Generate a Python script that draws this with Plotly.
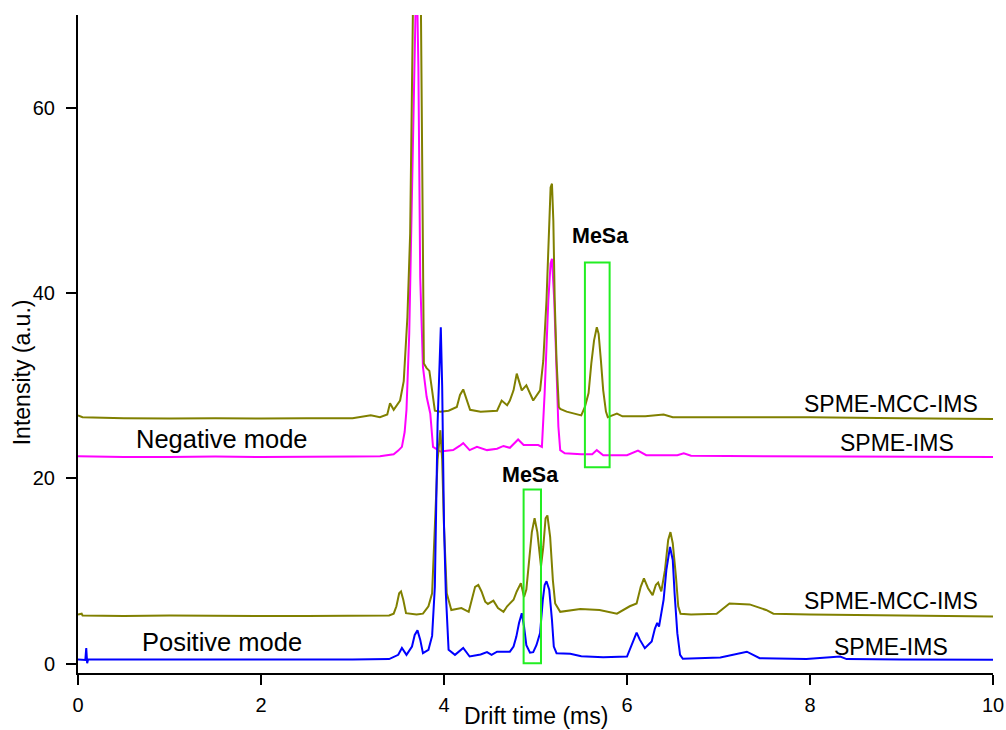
import plotly.graph_objects as go

# ---------------- data ----------------
neg_mcc_x = [0.0, 0.05, 0.5, 1.0, 1.5, 2.0, 2.5, 3.0, 3.2, 3.3, 3.38, 3.41, 3.45, 3.52, 3.56, 3.60, 3.63,
             3.66, 3.68, 3.71, 3.74, 3.76, 3.77, 3.78, 3.81, 3.84, 3.87, 3.90, 3.96, 4.05, 4.14, 4.175,
             4.21, 4.25, 4.285, 4.40, 4.58, 4.63, 4.69, 4.72, 4.76, 4.795, 4.85, 4.90, 4.975, 5.05, 5.085,
             5.12, 5.145, 5.165, 5.18, 5.195, 5.21, 5.23, 5.255, 5.27, 5.34, 5.50, 5.54, 5.58, 5.61, 5.64,
             5.67, 5.69, 5.715, 5.74, 5.77, 5.79, 5.84, 5.89, 5.95, 6.2, 6.4, 6.5, 7.0, 8.0, 9.0, 10.0]
neg_mcc_y = [26.8, 26.6, 26.5, 26.45, 26.5, 26.45, 26.5, 26.5, 26.8, 26.6, 26.9, 28.1, 27.4, 28.4, 30.5, 37.4, 46.4,
             62.0, 85.0, 110.0, 80.0, 52.0, 38.1, 32.4, 31.9, 31.6, 29.5, 27.3, 27.2, 27.3, 27.7, 29.0,
             29.6, 28.4, 27.4, 27.2, 27.3, 28.4, 27.9, 28.4, 29.5, 31.3, 29.5, 30.05, 28.4, 29.5, 32.7,
             39.2, 47.1, 51.4, 51.8, 47.8, 39.2, 32.7, 27.7, 27.5, 27.2, 26.8, 27.7, 29.2, 32.4, 34.9,
             36.3, 35.6, 32.7, 29.5, 27.2, 26.6, 26.8, 27.0, 26.7, 26.7, 26.9, 26.6, 26.6, 26.6, 26.5, 26.4]

neg_ims_x = [0.0, 0.5, 1.0, 1.5, 2.0, 2.5, 3.0, 3.3, 3.45, 3.50, 3.54, 3.57, 3.59, 3.62, 3.65, 3.68, 3.70,
             3.72, 3.74, 3.77, 3.81, 3.85, 3.88, 3.96, 4.10, 4.17, 4.21, 4.28, 4.36, 4.47, 4.58, 4.65,
             4.72, 4.81, 4.87, 5.03, 5.07, 5.10, 5.14, 5.165, 5.18, 5.205, 5.23, 5.25, 5.27, 5.32, 5.50, 5.62,
             5.67, 5.74, 6.0, 6.12, 6.21, 6.55, 6.62, 6.70, 7.5, 8.5, 10.0]
neg_ims_y = [22.4, 22.3, 22.3, 22.35, 22.3, 22.3, 22.35, 22.4, 22.6, 23.0, 23.4, 25.0, 27.4, 35.6, 53.6, 70.0, 76.0,
             64.4, 41.7, 32.0, 28.8, 27.0, 23.4, 22.9, 23.05, 23.5, 23.8, 23.05, 23.4, 23.05, 23.2, 23.5,
             23.3, 24.2, 23.6, 23.6, 23.4, 29.2, 39.2, 43.2, 43.7, 39.2, 30.9, 25.6, 23.05, 22.7, 22.6, 22.6,
             23.05, 22.5, 22.5, 23.0, 22.5, 22.5, 22.7, 22.45, 22.4, 22.35, 22.3]

pos_mcc_x = [0.0, 0.04, 0.05, 0.5, 1.0, 1.5, 2.0, 2.5, 3.0, 3.4, 3.45, 3.48, 3.51, 3.53, 3.555, 3.585,
             3.70, 3.77, 3.83, 3.87, 3.90, 3.93, 3.96, 3.98, 4.00, 4.03, 4.08, 4.19, 4.27, 4.30, 4.34,
             4.375, 4.41, 4.45, 4.48, 4.54, 4.59, 4.65, 4.69, 4.76, 4.795, 4.84, 4.875, 4.90, 4.93, 4.96,
             4.99, 5.02, 5.06, 5.085, 5.11, 5.13, 5.16, 5.19, 5.215, 5.27, 5.49, 5.70, 5.89, 6.03, 6.105,
             6.15, 6.185, 6.23, 6.28, 6.315, 6.34, 6.375, 6.415, 6.45, 6.475, 6.50, 6.535, 6.56, 6.585,
             6.70, 6.98, 7.12, 7.34, 7.52, 7.60, 8.0, 9.0, 10.0]
pos_mcc_y = [5.3, 5.4, 5.2, 5.15, 5.2, 5.15, 5.15, 5.15, 5.2, 5.2, 5.4, 6.2, 7.6, 7.8, 6.9, 5.45,
             5.3, 5.4, 6.2, 7.6, 14.8, 22.0, 25.2, 22.0, 14.8, 7.6, 5.8, 6.0, 5.6, 6.9, 8.3,
             8.5, 7.8, 6.7, 6.45, 6.8, 6.0, 5.6, 6.2, 6.9, 7.8, 8.7, 7.2, 8.0, 11.2, 14.2,
             15.7, 14.2, 10.5, 12.6, 15.7, 16.0, 13.7, 9.0, 6.5, 5.6, 5.9, 5.8, 5.4, 6.2, 6.5,
             8.3, 9.2, 8.15, 7.4, 8.5, 8.75, 7.8, 10.1, 13.35, 14.2, 13.0, 9.4, 6.2, 5.4,
             5.3, 5.4, 6.5, 6.4, 5.8, 5.4, 5.3, 5.2, 5.1]

pos_ims_x = [0.0, 0.08, 0.09, 0.10, 0.11, 0.5, 1.0, 1.5, 2.0, 2.5, 3.0, 3.4, 3.50, 3.54, 3.57, 3.59,
             3.65, 3.68, 3.71, 3.74, 3.77, 3.83, 3.87, 3.90, 3.93, 3.95, 3.965, 3.98, 4.00, 4.02, 4.05,
             4.12, 4.21, 4.28, 4.40, 4.47, 4.52, 4.58, 4.72, 4.76, 4.79, 4.82, 4.85, 4.875, 4.90, 4.94,
             4.975, 5.01, 5.05, 5.08, 5.10, 5.12, 5.15, 5.18, 5.20, 5.23, 5.38, 5.50, 5.74, 6.00, 6.07,
             6.105, 6.14, 6.195, 6.27, 6.305, 6.33, 6.35, 6.40, 6.43, 6.47, 6.50, 6.52, 6.55, 6.58, 6.61,
             7.02, 7.16, 7.31, 7.45, 7.96, 8.33, 8.40, 9.0, 10.0]
pos_ims_y = [0.45, 0.4, 1.7, 0.06, 0.45, 0.45, 0.4, 0.45, 0.45, 0.45, 0.45, 0.5, 0.96, 1.7, 1.3, 0.96,
             1.85, 3.1, 3.6, 2.6, 1.14, 1.5, 3.0, 8.3, 26.0, 33.0, 36.3, 30.0, 15.0, 7.6, 1.5,
             0.96, 1.7, 0.78, 1.0, 1.25, 0.96, 1.3, 1.3, 1.85, 2.9, 4.4, 5.45, 4.0, 2.0, 1.2,
             1.25, 2.0, 3.3, 6.9, 8.5, 8.9, 8.0, 4.7, 1.85, 1.14, 1.07, 0.8, 0.71, 0.78, 2.6,
             3.36, 2.6, 1.68, 2.4, 3.8, 4.4, 4.0, 6.9, 10.1, 12.6, 11.2, 7.6, 3.3, 0.96, 0.53,
             0.67, 0.96, 1.3, 0.6, 0.5, 0.78, 0.5, 0.45, 0.42]

x_ticks = [0, 2, 4, 6, 8, 10]
y_ticks = [0, 20, 40, 60]

# ---------------- figure ----------------
FONT = "Liberation Sans, Arial, sans-serif"
fig = go.Figure()
fig.add_trace(go.Scatter(x=neg_ims_x, y=neg_ims_y, mode="lines",
                         line=dict(color="#ff00ff", width=2), name="SPME-IMS (neg)"))
fig.add_trace(go.Scatter(x=neg_mcc_x, y=neg_mcc_y, mode="lines",
                         line=dict(color="#808000", width=2), name="SPME-MCC-IMS (neg)"))
fig.add_trace(go.Scatter(x=pos_mcc_x, y=pos_mcc_y, mode="lines",
                         line=dict(color="#808000", width=2), name="SPME-MCC-IMS (pos)"))
fig.add_trace(go.Scatter(x=pos_ims_x, y=pos_ims_y, mode="lines",
                         line=dict(color="#0000ff", width=2), name="SPME-IMS (pos)"))

# MeSa boxes
fig.add_shape(type="rect", x0=5.54, x1=5.81, y0=21.2, y1=43.3, xref="x", yref="y",
              line=dict(color="#22ee22", width=2))
fig.add_shape(type="rect", x0=4.87, x1=5.06, y0=0.06, y1=18.8, xref="x", yref="y",
              line=dict(color="#22ee22", width=2))

def label(x, y, text, size, bold=False):
    fig.add_annotation(x=x, y=y, xref="x", yref="y", text=("<b>%s</b>" % text) if bold else text,
                       showarrow=False, font=dict(family=FONT, size=size, color="black"),
                       xanchor="center", yanchor="middle")

label(1.576, 24.3, "Negative mode", 25.5)
label(1.57, 2.3, "Positive mode", 25.5)
label(8.89, 28.0, "SPME-MCC-IMS", 23)
label(8.95, 23.8, "SPME-IMS", 23)
label(8.89, 6.8, "SPME-MCC-IMS", 23)
label(8.88, 1.8, "SPME-IMS", 23)
label(5.715, 46.2, "MeSa", 21.5, bold=True)
label(4.94, 20.4, "MeSa", 21.5, bold=True)

# axis titles
fig.add_annotation(x=0, y=31.45, xref="paper", yref="y", xshift=-56, text="Intensity (a.u.)",
                   textangle=-90, showarrow=False, xanchor="center", yanchor="middle",
                   font=dict(family=FONT, size=23, color="black"))
fig.add_annotation(x=0.5, y=0, xref="paper", yref="paper", yshift=-43, text="Drift time (ms)",
                   showarrow=False, xanchor="center", yanchor="middle",
                   font=dict(family=FONT, size=23, color="black"))

fig.update_xaxes(range=[0, 10], tickvals=x_ticks, ticktext=[str(v) for v in x_ticks],
                 showline=True, linecolor="black", linewidth=2, mirror=False,
                 ticks="outside", ticklen=10, tickwidth=2, tickcolor="black",
                 showgrid=False, zeroline=False, automargin=False, ticklabelstandoff=3,
                 tickfont=dict(family=FONT, size=20, color="black"))
fig.update_yaxes(range=[-1, 70], tickvals=y_ticks, ticktext=[str(v) for v in y_ticks],
                 showline=True, linecolor="black", linewidth=2, mirror=False,
                 ticks="outside", ticklen=10, tickwidth=2, tickcolor="black",
                 showgrid=False, zeroline=False, automargin=False, ticklabelstandoff=7,
                 tickfont=dict(family=FONT, size=20, color="black"))

fig.update_layout(width=1006, height=730, margin=dict(l=78, r=13, t=15, b=57),
                  plot_bgcolor="white", paper_bgcolor="white", showlegend=False,
                  font=dict(family=FONT))
# remove the browser's default 8px body margin so the figure fills the window exactly
fig.write_html("out.html", config={"displayModeBar": False},
               post_script="document.body.style.margin='0';"
                           "document.documentElement.style.overflow='hidden';")
